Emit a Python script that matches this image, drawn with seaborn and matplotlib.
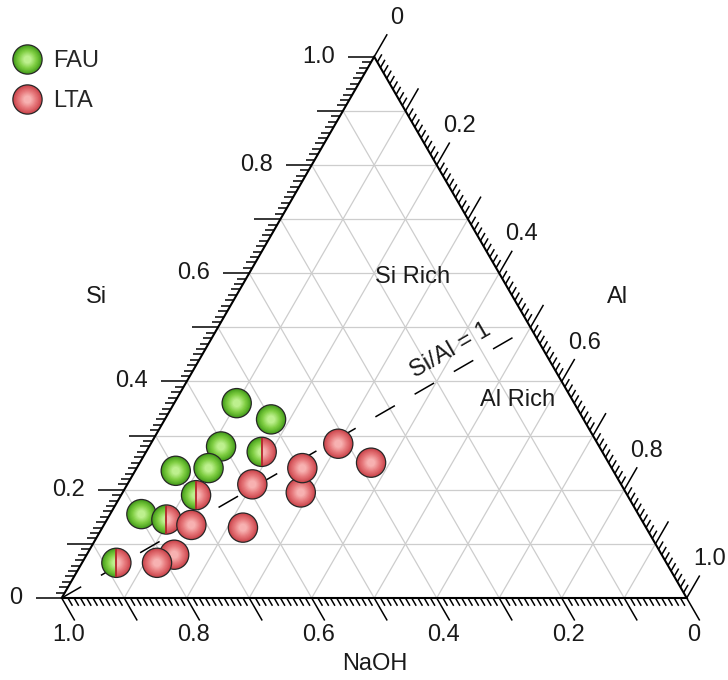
import numpy as np
import pandas as pd
import matplotlib
matplotlib.use("Agg")
import matplotlib.pyplot as plt
import seaborn as sns
from matplotlib.markers import MarkerStyle
from matplotlib.lines import Line2D
from matplotlib.legend_handler import HandlerBase
from matplotlib.collections import LineCollection
from matplotlib.colors import LinearSegmentedColormap, to_hex

# ---------------------------------------------------------------------------
# Gel compositions (mole fractions) and the zeolite phase that crystallised
# ---------------------------------------------------------------------------
si = [0.36, 0.33, 0.28, 0.235, 0.24, 0.155,
      0.27, 0.19, 0.145, 0.065,
      0.135, 0.08, 0.065, 0.13, 0.21, 0.195, 0.24, 0.285, 0.25]
al = [0.10, 0.17, 0.115, 0.065, 0.115, 0.05,
      0.185, 0.12, 0.095, 0.055,
      0.14, 0.14, 0.12, 0.225, 0.20, 0.285, 0.265, 0.30, 0.37]
naoh = [0.54, 0.50, 0.605, 0.70, 0.645, 0.795,
        0.545, 0.69, 0.76, 0.88,
        0.725, 0.78, 0.815, 0.645, 0.59, 0.52, 0.495, 0.415, 0.38]
phase = ["FAU"] * 6 + ["FAU+LTA"] * 4 + ["LTA"] * 9

phases_legend = ["FAU", "LTA"]
tick_values = [0.0, 0.2, 0.4, 0.6, 0.8, 1.0]
tick_labels = ["0", "0.2", "0.4", "0.6", "0.8", "1.0"]
axis_titles = ["Si", "Al", "NaOH"]

# ---------------------------------------------------------------------------
sns.set_style("white")
plt.rcParams["font.family"] = ["Liberation Sans", "DejaVu Sans"]
plt.rcParams["lines.scale_dashes"] = False

FS = 17
TXT = "#1a1a1a"
H = np.sqrt(3) / 2
PX = 1 / 625.0  # one pixel in data units (side of triangle = 625 px)


def tern(s, a, n):
    """Ternary (Si, Al, NaOH) -> cartesian; NaOH at lower left, Al lower right, Si top."""
    s, a, n = np.asarray(s, float), np.asarray(a, float), np.asarray(n, float)
    tot = s + a + n
    return (a + 0.5 * s) / tot, (s * H) / tot


fig = plt.figure(figsize=(7.28, 6.8), dpi=100)
ax = fig.add_axes([0, 0, 1, 1])

# ---- grid -----------------------------------------------------------------
grid = []
for c in np.arange(0.1, 1.0, 0.1):
    grid.append([(c / 2, c * H), (1 - c / 2, c * H)])               # const Si
    grid.append([(c, 0), ((1 + c) / 2, (1 - c) * H)])               # const Al
    grid.append([(1 - c, 0), ((1 - c) / 2, (1 - c) * H)])           # const NaOH
ax.add_collection(LineCollection(grid, colors="#cdcdcd", linewidths=0.9, zorder=1))

# ---- triangle frame -------------------------------------------------------
ax.plot([0, 1, 0.5, 0], [0, 0, H, 0], color="black", lw=1.5,
        solid_joinstyle="miter", zorder=3)

# ---- ticks ----------------------------------------------------------------
minor = np.round(np.arange(0, 1.0001, 0.01), 2)
L_MAJ, L_MIN = 26 * PX, 9 * PX
d_si = np.array([-1.0, 0.0])
d_na = np.array([0.5, -H])
d_al = np.array([0.5, H])

segs = []
for v in minor:
    L = L_MAJ if np.isclose(v * 10, round(v * 10)) else L_MIN
    b = np.array([v / 2, v * H]); segs.append([b, b + L * d_si])          # Si
    b = np.array([1 - v, 0.0]); segs.append([b, b + L * d_na])            # NaOH
    b = np.array([(1 + v) / 2, (1 - v) * H]); segs.append([b, b + L * d_al])  # Al
ax.add_collection(LineCollection(segs, colors="black", linewidths=1.1, zorder=3))

for v, lab in zip(tick_values, tick_labels):
    b = np.array([v / 2, v * H]) + 39 * PX * d_si
    ax.text(b[0], b[1], lab, ha="right", va="center", fontsize=FS, color=TXT)
    b = np.array([1 - v, 0.0]) + np.array([7 * PX, -37 * PX])
    ax.text(b[0], b[1], lab, ha="center", va="center", fontsize=FS, color=TXT)
    b = np.array([(1 + v) / 2, (1 - v) * H]) + 45 * PX * d_al
    ax.text(b[0], b[1], lab, ha="center", va="center", fontsize=FS, color=TXT)

# axis titles
ax.text(0.0563, 0.4816, axis_titles[0], ha="center", va="center", fontsize=FS, color=TXT)
ax.text(0.8900, 0.4816, axis_titles[1], ha="center", va="center", fontsize=FS, color=TXT)
ax.text(0.5013, -0.1056, axis_titles[2], ha="center", va="center", fontsize=FS, color=TXT)

# region annotations
ax.text(0.5613, 0.5136, "Si Rich", ha="center", va="center", fontsize=FS, color=TXT)
ax.text(0.7293, 0.3168, "Al Rich", ha="center", va="center", fontsize=FS, color=TXT)

# Si/Al = 1 iso-ratio line (from pure NaOH corner to Si = Al = 0.5)
lx, ly = tern([0.0, 0.5], [0.0, 0.5], [1.0, 0.0])
ax.plot(lx, ly, color="black", lw=1.1, linestyle=(0, (16.2, 16.4)), zorder=2)
ax.text(0.6229, 0.3952, "Si/Al = 1", rotation=30, rotation_mode="anchor",
        ha="center", va="center", fontsize=FS, color=TXT)

# ---- shaded spheres -------------------------------------------------------
D = 28 * 0.72          # sphere diameter, points
D_EDGE = 30.5 * 0.72   # outline diameter, points
N_LAYERS = 10
fracs = np.linspace(1.0, 0.28, N_LAYERS)
tt = np.linspace(0, 1, N_LAYERS) ** 0.9
green_cm = LinearSegmentedColormap.from_list("g", ["#4ba21f", "#7fce42", "#bdf08e"])
red_cm = LinearSegmentedColormap.from_list("r", ["#cd4a50", "#e6777a", "#f7b1b1"])
ramps = {"g": [to_hex(green_cm(t)) for t in tt], "r": [to_hex(red_cm(t)) for t in tt]}
OUTLINE = "#262626"

palette = {"edge": OUTLINE}
sizes = {"edge": D_EDGE ** 2}
for code in "gr":
    for k in range(N_LAYERS):
        palette[f"{code}{k}"] = ramps[code][k]
        sizes[f"{code}{k}"] = (D * fracs[k]) ** 2

px_, py_ = tern(si, al, naoh)
rows = []
for x, y, ph in zip(px_, py_, phase):
    rows.append((x, y, "edge", "full"))
    if ph == "FAU+LTA":
        rows += [(x, y, f"g{k}", "left") for k in range(N_LAYERS)]
        rows += [(x, y, f"r{k}", "right") for k in range(N_LAYERS)]
    else:
        code = "g" if ph == "FAU" else "r"
        rows += [(x, y, f"{code}{k}", "full") for k in range(N_LAYERS)]
balls = pd.DataFrame(rows, columns=["x", "y", "layer", "part"])

markers = {"full": MarkerStyle("o"),
           "left": MarkerStyle("o", fillstyle="left"),
           "right": MarkerStyle("o", fillstyle="right")}
sns.scatterplot(data=balls, x="x", y="y", hue="layer", palette=palette,
                size="layer", sizes=sizes, style="part", markers=markers,
                linewidth=0, legend=False, ax=ax, zorder=6)

# dividing seam on the mixed-phase spheres
mixed = pd.DataFrame({"x": px_, "y": py_, "phase": phase})
mixed = mixed[mixed["phase"] == "FAU+LTA"]
sns.scatterplot(data=mixed, x="x", y="y", marker="|", s=(D * 0.97) ** 2,
                color="#b3262c", linewidth=1.3, legend=False, ax=ax, zorder=7)


# ---- legend with shaded spheres --------------------------------------------
class BallHandler(HandlerBase):
    def __init__(self, colors):
        super().__init__()
        self.colors = colors

    def create_artists(self, legend, orig_handle, xdescent, ydescent,
                       width, height, fontsize, trans):
        cx = 0.5 * width - xdescent
        cy = 0.5 * height - ydescent
        arts = [Line2D([cx], [cy], marker="o", ms=D_EDGE, mfc=OUTLINE, mec="none",
                       ls="none", transform=trans)]
        for f, c in zip(fracs, self.colors):
            arts.append(Line2D([cx], [cy], marker="o", ms=D * f, mfc=c, mec="none",
                               ls="none", transform=trans))
        return arts


h_fau = Line2D([], [], ls="none", marker="o")
h_lta = Line2D([], [], ls="none", marker="o")
ax.legend([h_fau, h_lta], phases_legend,
          handler_map={h_fau: BallHandler(ramps["g"]), h_lta: BallHandler(ramps["r"])},
          loc="upper left", bbox_to_anchor=(12.5 / 728, 1 - 50 / 680),
          frameon=False, fontsize=FS, handlelength=1.2, handletextpad=0.5,
          labelspacing=0.76, borderpad=0, borderaxespad=0)

ax.set_xlim(-61.7 * PX, (728 - 61.7) * PX)
ax.set_ylim(-82 * PX, (680 - 82) * PX)
ax.set_axis_off()

fig.savefig("out.png", dpi=100)
